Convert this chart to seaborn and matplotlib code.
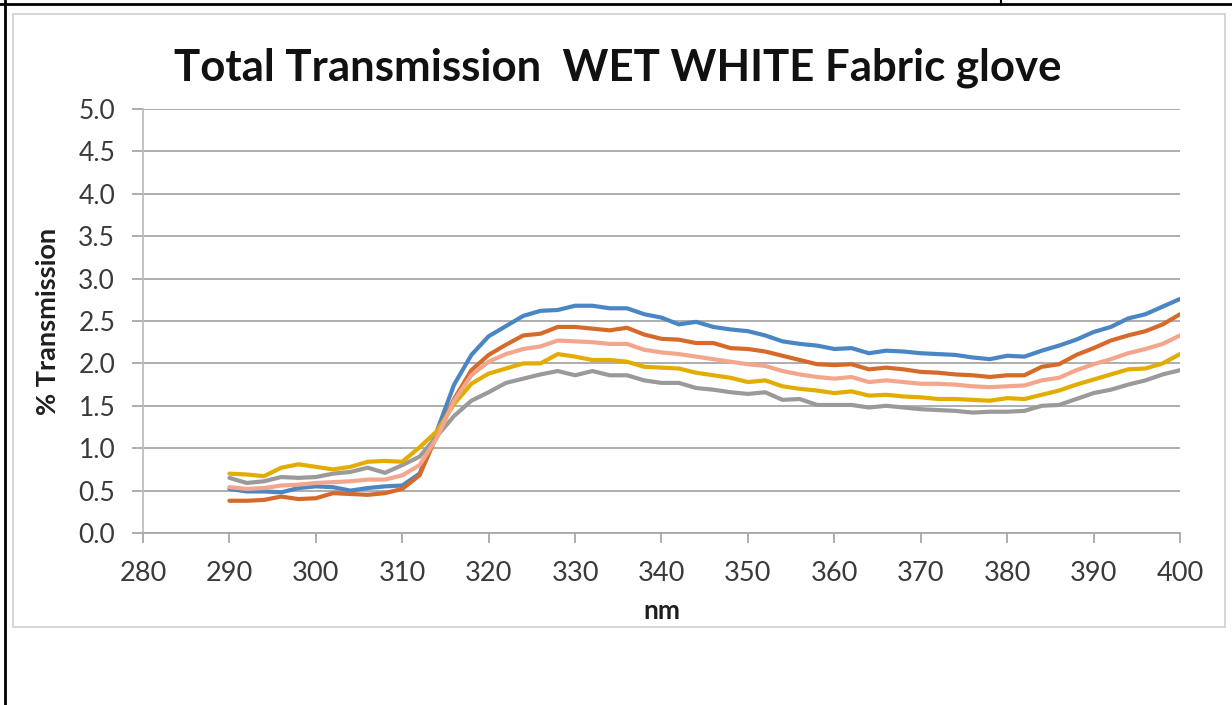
import numpy as np
import pandas as pd
import matplotlib
matplotlib.use("Agg")
import matplotlib.pyplot as plt
from matplotlib.lines import Line2D
from matplotlib.patches import Rectangle
import seaborn as sns

wavelength = list(range(290, 401, 2))

blue = [0.52, 0.49, 0.49, 0.48, 0.53, 0.55, 0.54, 0.50, 0.53, 0.55, 0.56, 0.70, 1.20, 1.75, 2.10,
        2.32, 2.44, 2.56, 2.62, 2.63, 2.68, 2.68, 2.65, 2.65, 2.58, 2.54, 2.46, 2.49, 2.43, 2.40,
        2.38, 2.33, 2.26, 2.23, 2.21, 2.17, 2.18, 2.12, 2.15, 2.14, 2.12, 2.11, 2.10, 2.07, 2.05,
        2.09, 2.08, 2.15, 2.21, 2.28, 2.37, 2.43, 2.53, 2.58, 2.67, 2.76]
orange = [0.38, 0.38, 0.39, 0.43, 0.40, 0.41, 0.47, 0.46, 0.45, 0.47, 0.52, 0.68, 1.15, 1.58, 1.92,
          2.10, 2.22, 2.33, 2.35, 2.43, 2.43, 2.41, 2.39, 2.42, 2.34, 2.29, 2.28, 2.24, 2.24, 2.18,
          2.17, 2.14, 2.09, 2.04, 1.99, 1.98, 1.99, 1.93, 1.95, 1.93, 1.90, 1.89, 1.87, 1.86, 1.84,
          1.86, 1.86, 1.96, 1.99, 2.10, 2.18, 2.27, 2.33, 2.38, 2.46, 2.58]
salmon = [0.54, 0.52, 0.53, 0.56, 0.57, 0.59, 0.60, 0.61, 0.63, 0.63, 0.68, 0.80, 1.12, 1.56, 1.86,
          2.02, 2.11, 2.17, 2.20, 2.27, 2.26, 2.25, 2.23, 2.23, 2.16, 2.13, 2.11, 2.08, 2.05, 2.02,
          1.99, 1.97, 1.91, 1.87, 1.84, 1.82, 1.84, 1.78, 1.80, 1.78, 1.76, 1.76, 1.75, 1.73, 1.72,
          1.73, 1.74, 1.80, 1.83, 1.92, 1.99, 2.05, 2.12, 2.17, 2.23, 2.33]
gold = [0.70, 0.69, 0.67, 0.77, 0.81, 0.78, 0.75, 0.78, 0.84, 0.85, 0.84, 1.01, 1.20, 1.52, 1.76,
        1.88, 1.94, 2.00, 2.00, 2.11, 2.08, 2.04, 2.04, 2.02, 1.96, 1.95, 1.94, 1.89, 1.86, 1.83,
        1.78, 1.80, 1.73, 1.70, 1.68, 1.65, 1.67, 1.62, 1.63, 1.61, 1.60, 1.58, 1.58, 1.57, 1.56,
        1.59, 1.58, 1.63, 1.68, 1.75, 1.81, 1.87, 1.93, 1.94, 2.00, 2.11]
gray = [0.65, 0.59, 0.61, 0.66, 0.65, 0.66, 0.70, 0.72, 0.77, 0.71, 0.80, 0.90, 1.14, 1.38, 1.56,
        1.66, 1.77, 1.82, 1.87, 1.91, 1.86, 1.91, 1.86, 1.86, 1.80, 1.77, 1.77, 1.71, 1.69, 1.66,
        1.64, 1.66, 1.57, 1.58, 1.51, 1.51, 1.51, 1.48, 1.50, 1.48, 1.46, 1.45, 1.44, 1.42, 1.43,
        1.43, 1.44, 1.50, 1.51, 1.58, 1.65, 1.69, 1.75, 1.80, 1.87, 1.92]

series_names = ["S1", "S2", "S3", "S4", "S5"]
series_values = [blue, orange, gray, gold, salmon]
series_colors = ["#4A86C4", "#D66A2A", "#9A9A9A", "#E3AC00", "#F4A68C"]

x_ticks = list(range(280, 401, 10))
y_ticks = [0.0, 0.5, 1.0, 1.5, 2.0, 2.5, 3.0, 3.5, 4.0, 4.5, 5.0]

title_text = "Total Transmission  WET WHITE Fabric glove"
x_label = "nm"
y_label = "% Transmission"

rows = []
for name, vals in zip(series_names, series_values):
    for w, v in zip(wavelength, vals):
        rows.append({"nm": w, "value": v, "series": name})
df = pd.DataFrame(rows)

sns.set_theme(style="white")
plt.rcParams["font.family"] = ["Lato", "DejaVu Sans"]

W, H = 1232, 705
fig = plt.figure(figsize=(W / 100, H / 100), dpi=100)
fig.patch.set_facecolor("white")

left, right, top, bottom = 143, 1180, 109, 533
ax = fig.add_axes([left / W, 1 - bottom / H, (right - left) / W, (bottom - top) / H])

sns.lineplot(data=df, x="nm", y="value", hue="series", hue_order=series_names,
             palette=dict(zip(series_names, series_colors)), estimator=None,
             linewidth=3.0, legend=False, ax=ax, zorder=3)
for ln in ax.get_lines():
    ln.set_solid_joinstyle("round")
    ln.set_solid_capstyle("round")

grid_c = "#A8A8A8"
ax.set_xlim(280, 400)
ax.set_ylim(0, 5)
ax.set_xticks(x_ticks)
ax.set_yticks(y_ticks)
ax.set_xticklabels([str(t) for t in x_ticks])
ax.set_yticklabels([f"{t:.1f}" for t in y_ticks])
ax.yaxis.grid(True, color=grid_c, linewidth=1.3)
ax.xaxis.grid(False)
ax.set_axisbelow(True)
for s in ["top", "right"]:
    ax.spines[s].set_visible(False)
ax.spines["left"].set_color("#BDBDBD")
ax.spines["left"].set_linewidth(1.3)
ax.spines["bottom"].set_color(grid_c)
ax.spines["bottom"].set_linewidth(1.3)
ax.tick_params(axis="y", length=8, width=1.3, color=grid_c, direction="out", pad=12,
               labelsize=19, labelcolor="#3A3A3A", left=True)
ax.tick_params(axis="x", length=7.5, width=1.3, color=grid_c, direction="out", pad=13,
               labelsize=19.5, labelcolor="#3A3A3A", bottom=True)
ax.set_xlabel(x_label, fontsize=19, fontweight="bold", color="#1E1E1E", labelpad=9)
ax.set_ylabel(y_label, fontsize=19.5, fontweight="bold", color="#1E1E1E", labelpad=13)

fig.text(618 / W, 1 - 68 / H, title_text, ha="center", va="center",
         fontsize=31.5, fontweight="bold", color="#111111")

# chart frame and page borders
fig.add_artist(Rectangle((13 / W, 1 - 627 / H), (1225 - 13) / W, (627 - 14) / H,
                         transform=fig.transFigure, fill=False, edgecolor="#D0D0D0", linewidth=1.2))
fig.add_artist(Line2D([0, 1], [1 - 4 / H, 1 - 4 / H], transform=fig.transFigure, color="black", linewidth=2))
fig.add_artist(Line2D([4.5 / W, 4.5 / W], [0, 1], transform=fig.transFigure, color="black", linewidth=2))
fig.add_artist(Line2D([1001.5 / W, 1001.5 / W], [1, 1 - 5 / H], transform=fig.transFigure, color="black", linewidth=1.5))

fig.savefig("out.png", dpi=100, facecolor="white")
